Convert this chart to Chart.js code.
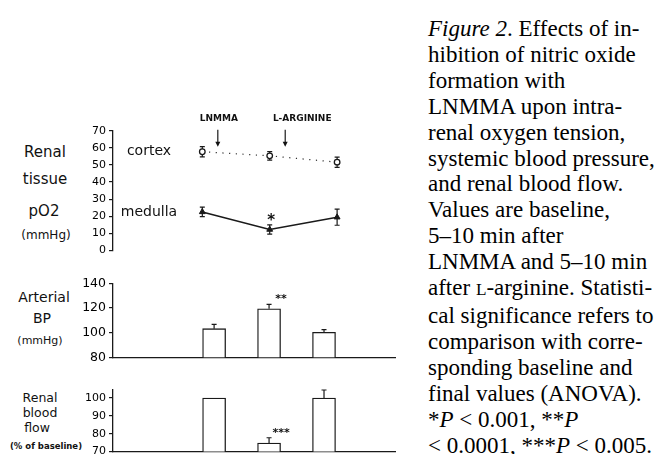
<!DOCTYPE html>
<html>
<head>
<meta charset="utf-8">
<script src="https://cdn.jsdelivr.net/npm/chart.js@4.4.1/dist/chart.umd.min.js"></script>
<style>
  html, body { margin: 0; padding: 0; background: #fff; }
  body { position: relative; width: 656px; height: 454px; overflow: hidden; font-family: "DejaVu Sans", sans-serif; color: #111; }
  .panel { position: absolute; left: 72px; }
  .lab { position: absolute; transform: translate(-50%, -50%); white-space: nowrap; line-height: 1; }
  .big { font-size: 15px; }
  .mid { font-size: 14px; }
  .sm  { font-size: 12px; }
  .cap { position: absolute; left: 428px; top: 16px; font-family: "Liberation Serif", "Times New Roman", serif;
         font-size: 23px; line-height: 25.9px; white-space: nowrap; color: #000; }
  .cap .sc { font-size: 0.75em; }
</style>
</head>
<body>

<!-- panel titles -->
<div class="lab big" style="left:45px;top:152px">Renal</div>
<div class="lab big" style="left:45px;top:179px">tissue</div>
<div class="lab big" style="left:44px;top:211px">pO2</div>
<div class="lab sm"  style="left:46px;top:235px">(mmHg)</div>

<div class="lab mid" style="left:44px;top:297px">Arterial</div>
<div class="lab mid" style="left:42px;top:318px">BP</div>
<div class="lab" style="left:40px;top:340px;font-size:11px">(mmHg)</div>

<div class="lab" style="left:40px;top:398px;font-size:12.5px">Renal</div>
<div class="lab" style="left:40px;top:413px;font-size:12.5px">blood</div>
<div class="lab" style="left:37px;top:428px;font-size:12.5px">flow</div>
<div class="lab" style="left:46px;top:446px;font-size:8.5px;font-weight:bold">(% of baseline)</div>

<div class="panel" style="top:100px"><canvas id="po2" width="324" height="160"></canvas></div>
<div class="panel" style="top:262px"><canvas id="bp" width="324" height="108"></canvas></div>
<div class="panel" style="top:372px"><canvas id="rbf" width="324" height="100"></canvas></div>

<div class="cap">
  <div><i>Figure 2</i>. Effects of in-</div>
  <div>hibition of nitric oxide</div>
  <div>formation with</div>
  <div>LNMMA upon intra-</div>
  <div>renal oxygen tension,</div>
  <div>systemic blood pressure,</div>
  <div>and renal blood flow.</div>
  <div>Values are baseline,</div>
  <div>5–10 min after</div>
  <div>LNMMA and 5–10 min</div>
  <div>after <span class="sc">L</span>-arginine. Statisti-</div>
  <div>cal significance refers to</div>
  <div>comparison with corre-</div>
  <div>sponding baseline and</div>
  <div>final values (ANOVA).</div>
  <div>*<i>P</i> &lt; 0.001, **<i>P</i></div>
  <div>&lt; 0.0001, ***<i>P</i> &lt; 0.005.</div>
</div>

<script>
// time points: baseline, after LNMMA, after L-arginine (x index 0..2)
var timepoints = ["Baseline", "LNMMA", "L-arginine"];

var cortexMean  = [57.7, 55.3, 51.6];
var cortexErr   = [3, 2.5, 3];
var medullaMean = [22.5, 12.2, 19.4];
var medullaErr  = [2.8, 2.7, 4.7];
var medullaSig  = ["", "*", ""];

var bpMean = [103.2, 119.4, 100.2];
var bpErr  = [3.5, 3.5, 2.2];
var bpSig  = ["", "**", ""];

var rbfMean = [100, 74.7, 100];
var rbfErr  = [0, 3, 4.5];
var rbfSig  = ["", "***", ""];

var drugNames = ["LNMMA", "L-ARGININE"];
var drugTimes = [0.23, 1.23];

var po2Ticks = [0, 10, 20, 30, 40, 50, 60, 70];
var bpTicks  = [80, 100, 120, 140];
var rbfTicks = [70, 80, 90, 100];

Chart.defaults.font.family = '"DejaVu Sans", sans-serif';
Chart.defaults.color = "#111";
Chart.defaults.animation = false;

var INK = "#1a1a1a";
var X_MIN = -1.325, X_MAX = 2.795;

function toXY(arr) { return arr.map(function (v, i) { return { x: i, y: v }; }); }

function xScale(showBase) {
  return {
    type: "linear", min: X_MIN, max: X_MAX, display: showBase,
    ticks: { display: false },
    grid: { display: false, drawTicks: false },
    border: { display: true, color: INK, width: 1.3 }
  };
}

function yScale(min, max, ticks, size) {
  return {
    min: min, max: max,
    afterFit: function (s) { s.width = 41; },
    afterBuildTicks: function (s) { s.ticks = ticks.map(function (v) { return { value: v }; }); },
    ticks: { font: { size: size }, padding: 3, color: "#000" },
    grid: { display: true, drawOnChartArea: false, drawTicks: true, tickLength: 4, color: INK, lineWidth: 1.2 },
    border: { display: true, color: INK, width: 1.3 }
  };
}

/* ── error bars, stars, series names, drug arrows ── */
var marks = {
  id: "marks",
  beforeDatasetsDraw: function (chart) {
    var ctx = chart.ctx, xs = chart.scales.x, ys = chart.scales.y;
    chart.data.datasets.forEach(function (ds) {
      if (!ds.errors) return;
      var isBar = ds.type === "bar" || chart.config.type === "bar";
      ctx.save();
      ctx.strokeStyle = INK;
      ctx.lineWidth = 1.2;
      ds.data.forEach(function (p, i) {
        var e = ds.errors[i];
        if (!e) return;
        var px = xs.getPixelForValue(p.x);
        var top = ys.getPixelForValue(p.y + e);
        var bot = isBar ? ys.getPixelForValue(p.y) : ys.getPixelForValue(p.y - e);
        var cap = 2.5;
        ctx.beginPath();
        ctx.moveTo(px, top); ctx.lineTo(px, bot);
        ctx.moveTo(px - cap, top); ctx.lineTo(px + cap, top);
        if (!isBar) { ctx.moveTo(px - cap, bot); ctx.lineTo(px + cap, bot); }
        ctx.stroke();
      });
      ctx.restore();
    });
  },
  afterDatasetsDraw: function (chart) {
    var ctx = chart.ctx, xs = chart.scales.x, ys = chart.scales.y, area = chart.chartArea;
    ctx.save();
    ctx.fillStyle = "#111";
    chart.data.datasets.forEach(function (ds) {
      // significance stars
      if (ds.sig) {
        ds.data.forEach(function (p, i) {
          var s = ds.sig[i];
          if (!s) return;
          var px = xs.getPixelForValue(p.x) + (s.length > 1 ? 12 : 1.5);
          var top = ys.getPixelForValue(p.y + (ds.errors ? ds.errors[i] : 0));
          ctx.font = s.length > 1 ? "bold 11px 'DejaVu Sans'" : "bold 15px 'DejaVu Sans'";
          ctx.textAlign = "center";
          ctx.textBaseline = "middle";
          ctx.fillText(s, px, top - (s.length > 1 ? 5 : 4));
        });
      }
      // series name beside the first point
      if (ds.showName) {
        ctx.font = "14px 'DejaVu Sans'";
        ctx.textAlign = "center";
        ctx.textBaseline = "middle";
        ctx.fillText(ds.label, area.left + 36, ys.getPixelForValue(ds.data[0].y));
      }
    });
    // drug administration arrows
    if (chart.options.plugins.marks && chart.options.plugins.marks.drugs) {
      var shift = [1, 17];
      drugTimes.forEach(function (t, i) {
        var px = xs.getPixelForValue(t);
        ctx.font = "bold 9px 'DejaVu Sans'";
        ctx.textAlign = "center";
        ctx.textBaseline = "middle";
        ctx.fillText(drugNames[i], px + shift[i], area.top - 12.5);
        ctx.strokeStyle = INK;
        ctx.lineWidth = 1.2;
        ctx.beginPath();
        ctx.moveTo(px, area.top - 1);
        ctx.lineTo(px, area.top + 13);
        ctx.stroke();
        ctx.beginPath();
        ctx.moveTo(px - 2.5, area.top + 11);
        ctx.lineTo(px + 2.5, area.top + 11);
        ctx.lineTo(px, area.top + 16);
        ctx.closePath();
        ctx.fill();
      });
    }
    ctx.restore();
  }
};

/* ── renal tissue pO2 ── */
new Chart(document.getElementById("po2"), {
  type: "line",
  data: {
    datasets: [
      {
        label: "cortex", data: toXY(cortexMean), errors: cortexErr, showName: true,
        borderColor: "#333", borderWidth: 1.2, borderDash: [1.2, 5.5],
        pointStyle: "circle", pointRadius: 2.8, pointBackgroundColor: "#fff",
        pointBorderColor: INK, pointBorderWidth: 1.3, tension: 0
      },
      {
        label: "medulla", data: toXY(medullaMean), errors: medullaErr, sig: medullaSig, showName: true,
        borderColor: INK, borderWidth: 1.6,
        pointStyle: "triangle", pointRadius: 3.4, pointBackgroundColor: INK,
        pointBorderColor: INK, pointBorderWidth: 1, tension: 0
      }
    ]
  },
  options: {
    responsive: false,
    layout: { padding: { top: 30.7, bottom: 6.7, left: 0, right: 0 } },
    plugins: { legend: { display: false }, tooltip: { enabled: false }, marks: { drugs: true } },
    scales: { x: xScale(false), y: yScale(0, 70, po2Ticks, 11) }
  },
  plugins: [marks]
});

/* ── arterial blood pressure ── */
new Chart(document.getElementById("bp"), {
  type: "bar",
  data: {
    datasets: [{
      label: "Arterial BP", data: toXY(bpMean), errors: bpErr, sig: bpSig,
      backgroundColor: "#fff", borderColor: INK, borderWidth: 1.3, borderSkipped: "start",
      barThickness: 23
    }]
  },
  options: {
    responsive: false,
    layout: { padding: { top: 21.3, bottom: 12.7, left: 0, right: 0 } },
    plugins: { legend: { display: false }, tooltip: { enabled: false } },
    scales: { x: xScale(true), y: yScale(80, 140, bpTicks, 12.5) }
  },
  plugins: [marks]
});

/* ── renal blood flow ── */
new Chart(document.getElementById("rbf"), {
  type: "bar",
  data: {
    datasets: [{
      label: "Renal blood flow", data: toXY(rbfMean), errors: rbfErr, sig: rbfSig,
      backgroundColor: "#fff", borderColor: INK, borderWidth: 1.3, borderSkipped: "start",
      barThickness: 23
    }]
  },
  options: {
    responsive: false,
    layout: { padding: { top: 18, bottom: 20.5, left: 0, right: 0 } },
    plugins: { legend: { display: false }, tooltip: { enabled: false } },
    scales: { x: xScale(true), y: yScale(70, 104.5, rbfTicks, 11) }
  },
  plugins: [marks]
});
</script>
</body>
</html>
